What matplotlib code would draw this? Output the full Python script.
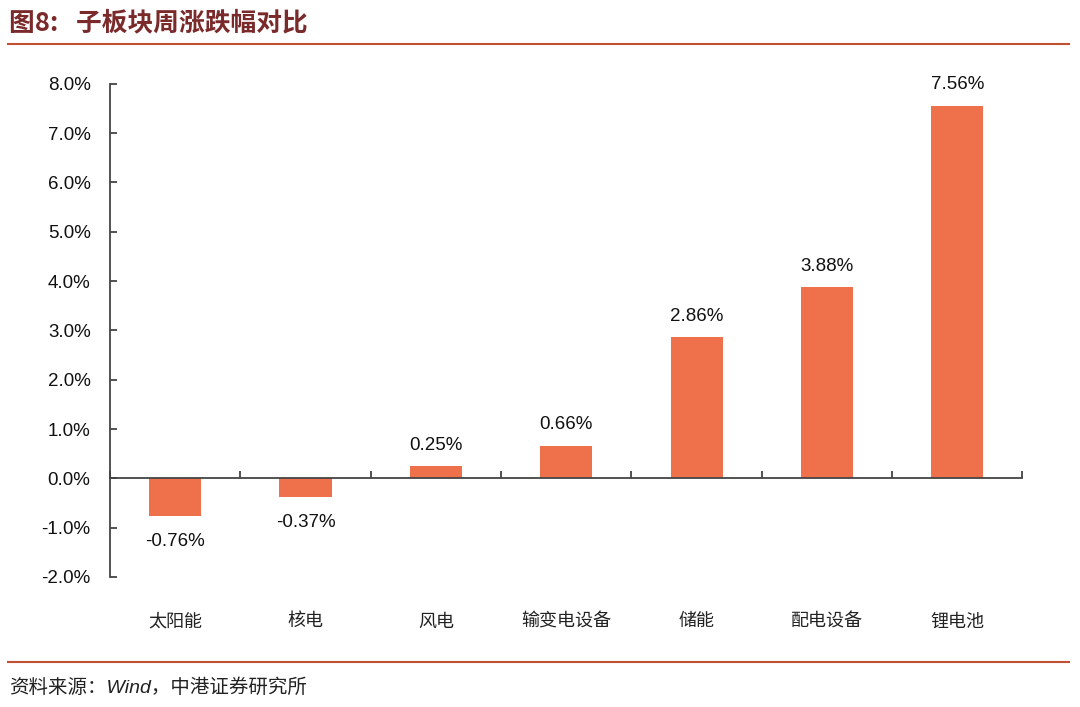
import matplotlib.pyplot as plt
import numpy as np

plt.rcParams['font.family'] = ['Liberation Sans', 'Noto Sans CJK SC', 'DejaVu Sans']

categories = ['太阳能', '核电', '风电', '输变电设备', '储能', '配电设备', '锂电池']
values = [-0.76, -0.37, 0.25, 0.66, 2.86, 3.88, 7.56]
yticks = [-2.0, -1.0, 0.0, 1.0, 2.0, 3.0, 4.0, 5.0, 6.0, 7.0, 8.0]

bar_color = '#EE714B'
title_color = '#7A2A2A'
rule_color = '#C0502F'
cjk = ['Noto Sans CJK SC', 'DejaVu Sans']

fig = plt.figure(figsize=(10.8, 7.07), dpi=100)
ax = fig.add_axes([0.1019, 0.1839, 0.8448, 0.6975])

x = np.arange(len(categories))
ax.bar(x, values, width=0.4, color=bar_color, zorder=2)

for xi, v in zip(x, values):
    if v >= 0:
        ax.text(xi, v + 0.25, f'{v:.2f}%', ha='center', va='bottom', fontsize=13.5, color='#111111')
    else:
        ax.text(xi, v - 0.35, f'{v:.2f}%', ha='center', va='top', fontsize=13.5, color='#111111')

ax.set_xlim(-0.5, len(categories) - 0.5)
ax.set_ylim(-2.0, 8.0)
ax.set_yticks(yticks)
ax.set_yticklabels([f'{t:.1f}%' for t in yticks], fontsize=13.5, color='#111111')

# category boundaries as ticks on the zero line
ax.spines['bottom'].set_position(('data', 0))
ax.spines['top'].set_visible(False)
ax.spines['right'].set_visible(False)
for s in ['bottom', 'left']:
    ax.spines[s].set_color('#444444')
    ax.spines[s].set_linewidth(1.3)
ax.set_xticks(np.arange(len(categories) + 1) - 0.5)
ax.set_xticklabels([])
ax.tick_params(axis='x', direction='in', length=5, width=1.3, color='#444444')
ax.tick_params(axis='y', direction='in', length=5, width=1.3, color='#444444', pad=14)

for xi, c in zip(x, categories):
    ax.text(xi, -2.9, c, ha='center', va='center', fontsize=13, family=cjk, color='#222222')

# header and footer
fig.text(0.008, 0.968, '图8:   子板块周涨跌幅对比', ha='left', va='center', fontsize=18.5,
         fontweight='bold', family=cjk, color=title_color)
fig.add_artist(plt.Line2D([0.007, 0.99], [0.938, 0.938], color=rule_color, lw=1.5))
fig.add_artist(plt.Line2D([0.007, 0.99], [0.064, 0.064], color=rule_color, lw=1.5))
fig.text(0.008, 0.027, '资料来源：Wind，中港证券研究所', ha='left', va='center', fontsize=14,
         style='italic', family=['Liberation Sans', 'Noto Sans CJK SC'], color='#222222')

fig.savefig('out.png', dpi=100)
